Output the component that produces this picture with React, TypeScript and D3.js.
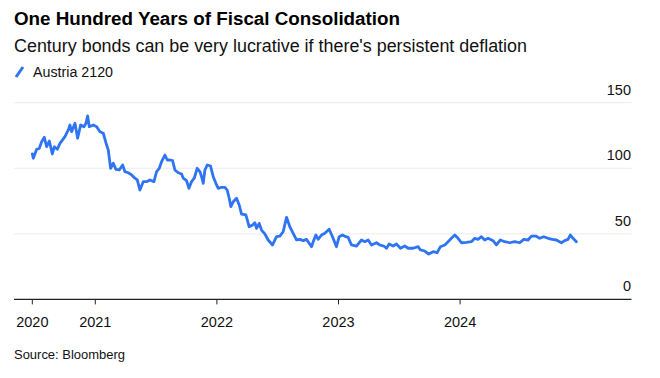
import React from "react";
import * as d3 from "d3";

const title = "One Hundred Years of Fiscal Consolidation";
const subtitle = "Century bonds can be very lucrative if there's persistent deflation";
const seriesName = "Austria 2120";
const source = "Source: Bloomberg";

const dates = [
  "2020-06-26","2020-06-29","2020-07-09","2020-07-17","2020-07-24","2020-08-01","2020-08-08","2020-08-16","2020-08-25","2020-08-31",
  "2020-09-09","2020-09-17","2020-10-02","2020-10-12","2020-10-17","2020-10-22","2020-11-01","2020-11-09","2020-11-18","2020-11-28",
  "2020-12-04","2020-12-09","2020-12-14","2020-12-26","2021-01-05","2021-01-15","2021-01-25","2021-02-04","2021-02-09","2021-02-16",
  "2021-02-24","2021-03-04","2021-03-14","2021-03-24","2021-03-31","2021-04-10","2021-04-20","2021-04-30","2021-05-07","2021-05-15",
  "2021-05-25","2021-06-04","2021-06-14","2021-06-26","2021-07-04","2021-07-12","2021-07-19","2021-07-29","2021-08-05","2021-08-13",
  "2021-08-21","2021-08-28","2021-09-07","2021-09-17","2021-09-22","2021-10-02","2021-10-09","2021-10-17","2021-10-25","2021-11-03",
  "2021-11-11","2021-11-16","2021-11-21","2021-11-26","2021-12-03","2021-12-13","2021-12-21","2021-12-29","2022-01-05","2022-01-15",
  "2022-01-25","2022-02-01","2022-02-07","2022-02-12","2022-02-19","2022-03-01","2022-03-09","2022-03-16","2022-03-29","2022-04-08",
  "2022-04-18","2022-04-25","2022-04-30","2022-05-08","2022-05-15","2022-05-25","2022-06-04","2022-06-17","2022-06-29","2022-07-09",
  "2022-07-19","2022-07-29","2022-08-08","2022-08-18","2022-08-28","2022-09-07","2022-09-17","2022-09-27","2022-10-02","2022-10-12",
  "2022-10-19","2022-10-25","2022-11-01","2022-11-11","2022-11-21","2022-12-04","2022-12-14","2022-12-26","2023-01-03","2023-01-13",
  "2023-01-23","2023-01-30","2023-02-09","2023-02-24","2023-03-11","2023-03-21","2023-03-31","2023-04-10","2023-04-25","2023-05-05",
  "2023-05-17","2023-05-25","2023-06-02","2023-06-14","2023-06-24","2023-07-06","2023-07-19","2023-07-29","2023-08-13","2023-08-28",
  "2023-09-04","2023-09-17","2023-09-29","2023-10-12","2023-10-24","2023-11-03","2023-11-16","2023-11-26","2023-12-06","2023-12-16",
  "2023-12-26","2024-01-05","2024-01-20","2024-02-04","2024-02-14","2024-02-24","2024-03-05","2024-03-15","2024-03-25","2024-04-09",
  "2024-04-19","2024-05-01","2024-05-14","2024-05-29","2024-06-13","2024-06-28","2024-07-10","2024-07-23","2024-08-02","2024-08-15",
  "2024-08-27","2024-09-08","2024-09-21","2024-10-04","2024-10-16","2024-10-31","2024-11-10","2024-11-20","2024-11-27","2024-12-05",
  "2024-12-15",
];

const prices = [
  110.9,107.6,114.5,115.2,120.3,123.6,116.4,120.8,110.9,116.4,
  114.5,119.0,124.1,129.2,133.0,127.9,134.3,122.9,133.0,131.7,
  134.3,139.9,131.7,133.0,131.7,127.9,126.7,117.7,113.9,100.0,
  103.8,99.2,98.7,102.5,97.4,96.6,94.9,92.4,91.1,83.4,
  89.8,89.8,91.1,89.8,97.4,100.0,105.0,110.1,106.3,106.3,
  105.8,98.7,96.6,95.6,92.4,90.5,84.7,89.8,92.4,100.0,
  97.4,93.6,88.5,98.7,102.5,101.7,93.6,88.5,84.7,85.5,
  85.5,83.4,77.1,70.7,74.5,77.1,72.0,65.1,64.4,55.4,
  56.7,58.5,54.2,58.0,52.9,49.9,45.3,41.5,47.8,48.3,
  51.6,62.6,55.4,50.4,45.3,45.8,44.8,45.8,44.0,40.2,
  45.3,49.1,45.8,49.1,50.4,53.5,47.8,40.2,47.8,49.1,
  47.8,47.3,41.5,40.7,45.3,44.0,45.3,41.5,43.2,41.5,
  40.7,39.0,42.2,40.7,42.2,39.0,40.7,39.0,39.0,40.2,
  37.7,36.9,34.6,36.4,35.6,40.2,41.5,44.0,46.6,49.1,
  46.6,43.2,43.5,44.0,46.6,45.8,47.8,45.3,46.6,44.8,
  41.5,45.3,44.0,43.2,44.0,43.2,45.8,45.3,48.3,48.3,
  46.6,47.8,46.6,45.8,45.3,43.2,44.8,45.8,49.1,46.6,
  44.0,
];

const xDomain = ["2020-05-02", "2025-05-28"];
const xTickDates = ["2020-06-26", "2021-01-01", "2022-01-01", "2023-01-01", "2024-01-01"];
const xTickLabels = ["2020", "2021", "2022", "2023", "2024"];
const yTicks = [0, 50, 100, 150];

const W = 660;
const H = 378;
const FONT = "'Liberation Sans', Arial, Helvetica, sans-serif";
const BLUE = "#2f74f3";

export default function App() {
  const parse = d3.utcParse("%Y-%m-%d");
  const data = dates.map((d, i) => ({ date: parse(d) as Date, value: prices[i] }));

  const x = d3
    .scaleUtc()
    .domain(xDomain.map((d) => parse(d) as Date))
    .range([14, 631]);
  const y = d3.scaleLinear().domain([0, 150]).range([299.4, 102.7]);

  const line = d3
    .line<{ date: Date; value: number }>()
    .x((d) => x(d.date))
    .y((d) => y(d.value))
    .curve(d3.curveLinear);

  return (
    <svg
      width={W}
      height={H}
      viewBox={`0 0 ${W} ${H}`}
      style={{ position: "absolute", left: 0, top: 0, background: "#fff" }}
      fontFamily={FONT}
    >
      <rect x={0} y={0} width={W} height={H} fill="#fff" />
      <text x={14} y={25} fontSize={18.8} fontWeight="bold" fill="#000" textLength={386} lengthAdjust="spacingAndGlyphs">
        {title}
      </text>
      <text x={14} y={52} fontSize={17.5} fill="#111" textLength={513} lengthAdjust="spacingAndGlyphs">
        {subtitle}
      </text>
      <line x1={16} y1={77} x2={23} y2={67} stroke={BLUE} strokeWidth={3} />
      <text x={33} y={77} fontSize={14} fill="#111" textLength={80} lengthAdjust="spacingAndGlyphs">
        {seriesName}
      </text>

      {yTicks.filter((t) => t > 0).map((t) => (
        <line key={"g" + t} x1={14} x2={631.5} y1={y(t)} y2={y(t)} stroke="#ececec" strokeWidth={1} />
      ))}
      {yTicks.map((t) => (
        <text key={"yl" + t} x={631} y={y(t) - 8} fontSize={14.5} textAnchor="end" fill="#111">
          {t}
        </text>
      ))}

      <path d={line(data) || ""} fill="none" stroke={BLUE} strokeWidth={2.8} strokeLinejoin="round" strokeLinecap="round" />

      <line x1={14} x2={631.5} y1={y(0)} y2={y(0)} stroke="#222" strokeWidth={1.2} />
      {xTickDates.map((d, i) => {
        const xx = x(parse(d) as Date);
        return (
          <g key={"xt" + i}>
            <line x1={xx} x2={xx} y1={y(0)} y2={y(0) + 5} stroke="#222" strokeWidth={1} />
            <text x={xx} y={327} fontSize={14.5} textAnchor="middle" fill="#111">
              {xTickLabels[i]}
            </text>
          </g>
        );
      })}

      <text x={14} y={359} fontSize={13} fill="#111" textLength={111} lengthAdjust="spacingAndGlyphs">
        {source}
      </text>
    </svg>
  );
}
